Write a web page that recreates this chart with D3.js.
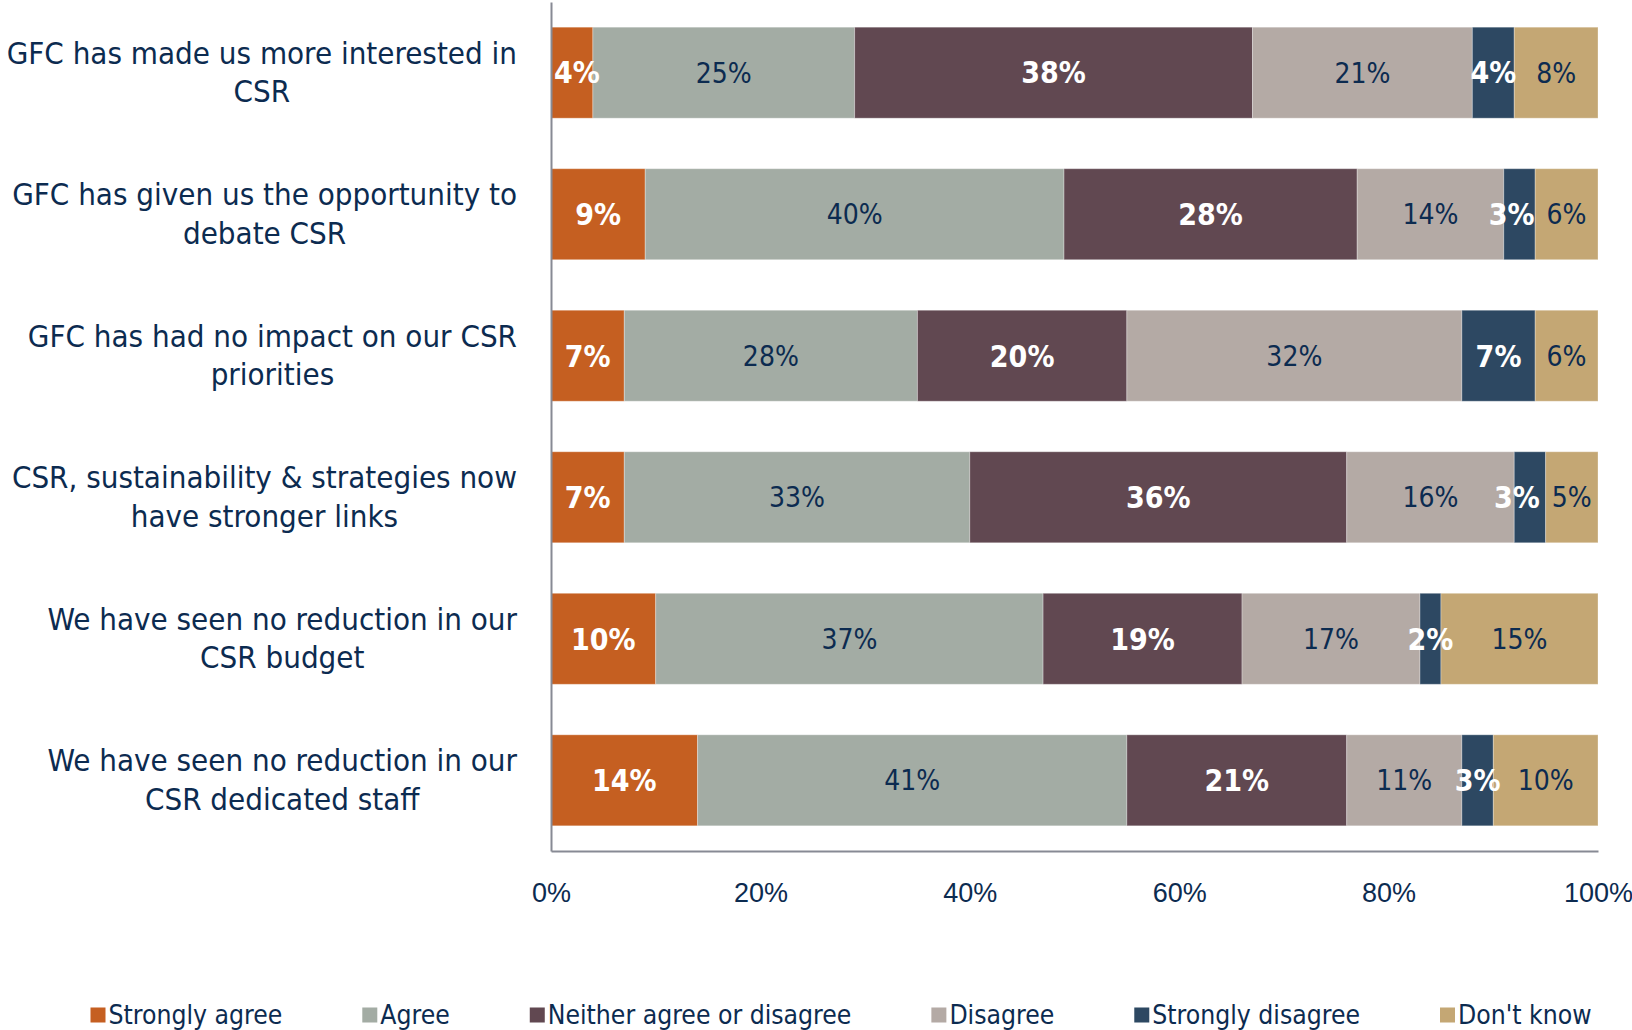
<!DOCTYPE html>
<html>
<head>
<meta charset="utf-8">
<script src="https://cdn.jsdelivr.net/npm/d3@7"></script>
<style>
  body { margin: 0; background: #fff; }
  svg { display: block; font-family: "DejaVu Sans Condensed", "DejaVu Sans", sans-serif; font-stretch: condensed; }
</style>
</head>
<body>
<script>
/********************************************************/
// chart data
const categories = [
  ["GFC has made us more interested in", "CSR"],
  ["GFC has given us the opportunity to", "debate CSR"],
  ["GFC has had no impact on our CSR", "priorities"],
  ["CSR, sustainability & strategies now", "have stronger links"],
  ["We have seen no reduction in our", "CSR budget"],
  ["We have seen no reduction in our", "CSR dedicated staff"]
];
const seriesNames = ["Strongly agree", "Agree", "Neither agree or disagree", "Disagree", "Strongly disagree", "Don't know"];
const stronglyAgree    = [4, 9, 7, 7, 10, 14];
const agree            = [25, 40, 28, 33, 37, 41];
const neither          = [38, 28, 20, 36, 19, 21];
const disagree         = [21, 14, 32, 16, 17, 11];
const stronglyDisagree = [4, 3, 7, 3, 2, 3];
const dontKnow         = [8, 6, 6, 5, 15, 10];
const tickValues = [0, 0.2, 0.4, 0.6, 0.8, 1];

/********************************************************/
const svgWidth = 1632;
const svgHeight = 1030;
const plot = { left: 551, right: 1598, top: 2, bottom: 851 };

const colors = ["#c55f21", "#a3aca4", "#614851", "#b4aaa5", "#2d4862", "#c4a774"];
const whiteLabel = [true, false, true, false, true, false];
const textColor = "#0c2b50";
const axisColor = "#878a94";

const svg = d3.select("body")
  .append("svg")
  .attr("width", svgWidth)
  .attr("height", svgHeight);

// build rows for the stack
const seriesValues = [stronglyAgree, agree, neither, disagree, stronglyDisagree, dontKnow];
const rows = categories.map((c, i) => {
  const r = { idx: i };
  seriesNames.forEach((s, j) => { r[s] = seriesValues[j][i] / 100; });
  return r;
});
const stacked = d3.stack().keys(seriesNames)(rows);

/************** scales ************/
const xScale = d3.scaleLinear().domain([0, 1]).range([plot.left, plot.right]);
const yScale = d3.scaleBand()
  .domain(d3.range(categories.length))
  .range([plot.top, plot.bottom])
  .paddingInner(0.357)
  .paddingOuter(0.178);

/************** bars ************/
const layers = svg.append("g")
  .selectAll("g")
  .data(stacked)
  .join("g")
  .attr("fill", (d, i) => colors[i]);

layers.selectAll("rect")
  .data(d => d)
  .join("rect")
  .attr("x", d => xScale(d[0]))
  .attr("y", d => yScale(d.data.idx))
  .attr("width", d => xScale(d[1]) - xScale(d[0]))
  .attr("height", yScale.bandwidth())
  .attr("stroke", "#ffffff")
  .attr("stroke-opacity", 0.3)
  .attr("stroke-width", 1);

/************** data labels ************/
const labelGroups = stacked.map((layer, i) => svg.append("g")
  .selectAll("text")
  .data(layer)
  .join("text")
  .attr("x", d => Math.max((xScale(d[0]) + xScale(d[1])) / 2, plot.left + 26))
  .attr("y", d => yScale(d.data.idx) + yScale.bandwidth() / 2)
  .attr("dy", "0.36em")
  .attr("text-anchor", "middle")
  .attr("font-size", whiteLabel[i] ? "30px" : "28px")
  .attr("font-weight", whiteLabel[i] ? "bold" : "normal")
  .attr("fill", whiteLabel[i] ? "#ffffff" : textColor)
  .text(d => Math.round((d[1] - d[0]) * 100) + "%"));

// push crowded labels to the left so they don't run into the next one
categories.forEach((c, r) => {
  for (let s = seriesNames.length - 2; s >= 0; s--) {
    const node = labelGroups[s].nodes()[r];
    const next = labelGroups[s + 1].nodes()[r];
    const b = node.getBBox();
    const nb = next.getBBox();
    const overlap = b.x + b.width - (nb.x - 12);
    if (overlap > 0) {
      d3.select(node).attr("x", +d3.select(node).attr("x") - overlap);
    }
  }
});

/************** axes ************/
const bottomAxis = d3.axisBottom(xScale)
  .tickValues(tickValues)
  .tickFormat(d3.format(".0%"))
  .tickSize(0)
  .tickPadding(32);

const xAxisG = svg.append("g")
  .attr("transform", `translate(0, ${plot.bottom})`)
  .call(bottomAxis);
xAxisG.select(".domain").attr("stroke", axisColor).attr("stroke-width", 2);
xAxisG.selectAll("text")
  .attr("fill", textColor)
  .attr("font-size", "27px")
  .attr("font-family", null);

const leftAxis = d3.axisLeft(yScale).tickSize(0).tickFormat("").tickSizeOuter(0);
const yAxisG = svg.append("g")
  .attr("transform", `translate(${plot.left}, 0)`)
  .call(leftAxis);
yAxisG.select(".domain").attr("stroke", axisColor).attr("stroke-width", 2);

/************** category labels ************/
const labelRight = 517;
const lineHeight = 38.5;
categories.forEach((lines, i) => {
  const g = svg.append("g");
  const cy = yScale(i) + yScale.bandwidth() / 2;
  const texts = lines.map((ln, k) => g.append("text")
    .attr("y", cy + (k - (lines.length - 1) / 2) * lineHeight - 1)
    .attr("dy", "0.36em")
    .attr("text-anchor", "middle")
    .attr("font-size", "31px")
    .attr("fill", textColor)
    .text(ln));
  const maxW = d3.max(texts, t => t.node().getComputedTextLength());
  texts.forEach(t => t.attr("x", labelRight - maxW / 2));
});

/************** legend ************/
const legendY = 1015;
const legendCenter = 841;
const sq = 15, sqGap = 3, itemGap = 80;
const legend = svg.append("g");
const items = seriesNames.map((name, i) => {
  const g = legend.append("g");
  g.append("rect")
    .attr("y", legendY - sq / 2)
    .attr("width", sq)
    .attr("height", sq)
    .attr("fill", colors[i]);
  const t = g.append("text")
    .attr("x", sq + sqGap)
    .attr("y", legendY)
    .attr("dy", "0.36em")
    .attr("font-size", "26.3px")
    .attr("fill", textColor)
    .text(name);
  return { g, w: sq + sqGap + t.node().getComputedTextLength() };
});
const totalW = d3.sum(items, d => d.w) + itemGap * (items.length - 1);
let lx = legendCenter - totalW / 2;
items.forEach(it => {
  it.g.attr("transform", `translate(${lx}, 0)`);
  lx += it.w + itemGap;
});
</script>
</body>
</html>
